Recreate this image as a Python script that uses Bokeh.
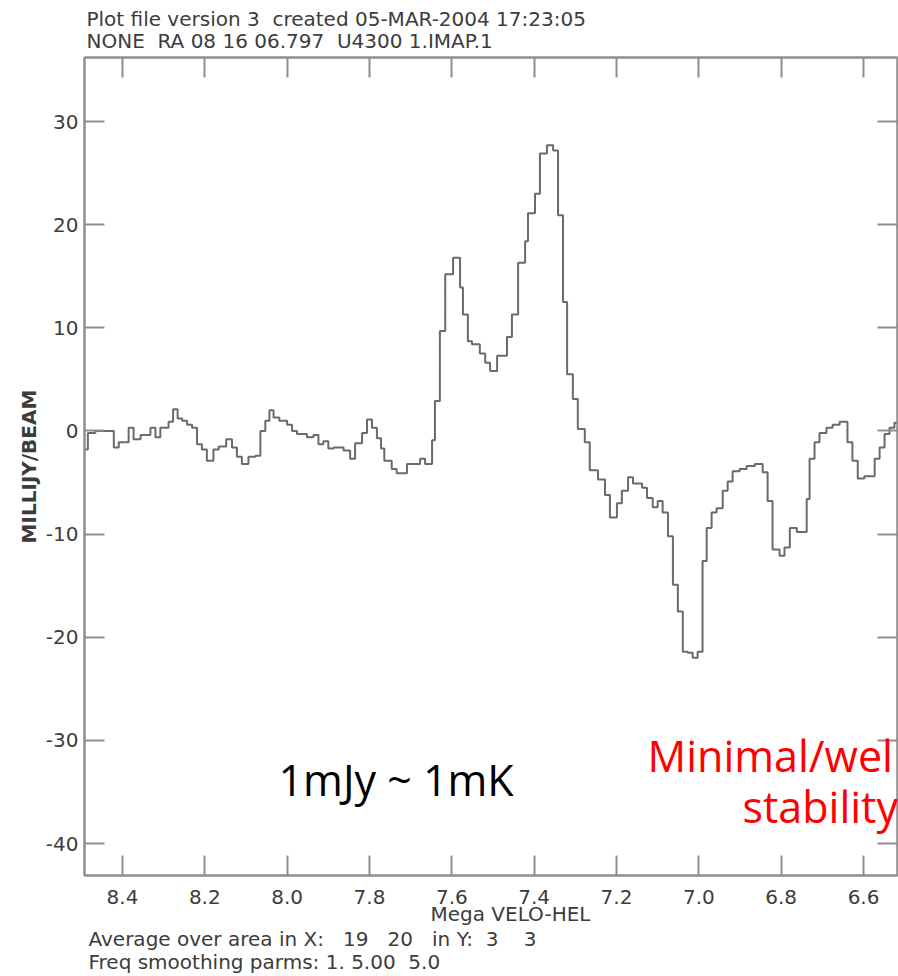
from bokeh.plotting import figure
from bokeh.models import Range1d, LinearAxis, FixedTicker, Label, Title
from bokeh.embed import file_html
from bokeh.resources import INLINE

# ---- data ----
# start velocity of each channel step (Mega VELO-HEL) and the flux (mJy/beam)
vel_edges = [8.492, 8.484, 8.466, 8.421, 8.409, 8.385, 8.373, 8.356, 8.332, 8.320,
             8.308, 8.288, 8.277, 8.266, 8.255, 8.243, 8.231, 8.219, 8.207, 8.195,
             8.179, 8.166, 8.148, 8.134, 8.122, 8.110, 8.094, 8.077, 8.065, 8.053,
             8.043, 8.033, 8.019, 8.000, 7.988, 7.976, 7.952, 7.936, 7.924, 7.912,
             7.900, 7.887, 7.863, 7.847, 7.835, 7.818, 7.806, 7.794, 7.782, 7.772,
             7.764, 7.746, 7.734, 7.709, 7.677, 7.665, 7.648, 7.641, 7.629, 7.616,
             7.597, 7.580, 7.573, 7.561, 7.551, 7.532, 7.519, 7.507, 7.490, 7.466,
             7.454, 7.439, 7.422, 7.415, 7.398, 7.386, 7.369, 7.354, 7.342, 7.330,
             7.320, 7.306, 7.294, 7.277, 7.265, 7.245, 7.228, 7.216, 7.199, 7.187,
             7.172, 7.160, 7.138, 7.126, 7.112, 7.100, 7.088, 7.075, 7.063, 7.051,
             7.039, 7.027, 7.015, 7.003, 6.991, 6.981, 6.969, 6.957, 6.942, 6.930,
             6.918, 6.901, 6.884, 6.864, 6.845, 6.833, 6.821, 6.804, 6.792, 6.779,
             6.762, 6.738, 6.731, 6.719, 6.707, 6.690, 6.675, 6.658, 6.639, 6.627,
             6.614, 6.598, 6.573, 6.561, 6.549, 6.537, 6.525, 6.510]
flux = [-1.8, -0.2, 0.0, -1.6, -1.1, 0.3, -0.8, -0.4, 0.3, -0.6,
        0.3, 0.9, 2.1, 1.2, 1.0, 0.6, 0.3, -1.3, -1.8, -2.9,
        -1.8, -1.5, -0.8, -1.6, -2.5, -3.2, -2.5, -2.4, 0.0, 1.0,
        2.0, 1.3, 1.0, 0.6, 0.0, -0.3, -0.6, -0.4, -1.3, -1.0,
        -1.7, -1.6, -1.9, -2.7, -1.2, -0.2, 1.1, 0.3, -0.7, -1.7,
        -2.9, -3.7, -4.1, -3.2, -2.7, -3.2, -0.9, 2.9, 9.7, 15.2,
        16.8, 13.9, 11.3, 8.7, 8.4, 7.5, 6.6, 5.8, 7.3, 9.1,
        11.3, 16.3, 18.4, 21.1, 23.0, 26.9, 27.7, 27.2, 20.9, 12.5,
        5.5, 3.1, 0.2, -1.1, -3.8, -4.7, -6.2, -8.4, -7.0, -5.8,
        -4.5, -5.1, -5.5, -6.5, -7.4, -6.8, -7.9, -10.2, -14.9, -17.5,
        -21.4, -21.5, -22.0, -21.4, -12.6, -9.4, -7.9, -7.5, -5.8, -4.9,
        -3.9, -3.7, -3.4, -3.2, -4.0, -6.8, -11.5, -12.1, -11.3, -9.4,
        -9.8, -6.6, -2.7, -1.1, -0.2, 0.3, 0.6, 0.9, -1.1, -2.9,
        -4.6, -4.4, -2.7, -1.6, -0.3, 0.3, 0.8, 0.8]

x_ticks = [8.4, 8.2, 8.0, 7.8, 7.6, 7.4, 7.2, 7.0, 6.8, 6.6]
x_tick_labels = ["8.4", "8.2", "8.0", "7.8", "7.6", "7.4", "7.2", "7.0", "6.8", "6.6"]
y_ticks = [-40, -30, -20, -10, 0, 10, 20, 30]
y_tick_labels = ["-40", "-30", "-20", "-10", "0", "10", "20", "30"]

header_lines = ["Plot file version 3\u00a0 created 05-MAR-2004 17:23:05",
                "NONE\u00a0 RA 08 16 06.797\u00a0 U4300 1.IMAP.1"]
x_title = "Mega VELO-HEL"
y_title = "MILLIJY/BEAM"
footer_lines = ["Average over area in X:\u00a0\u00a0 19\u00a0\u00a0 20\u00a0\u00a0 in Y:\u00a0 3\u00a0\u00a0\u00a0 3",
                "Freq smoothing parms: 1. 5.00\u00a0 5.0"]
note_black = "1mJy ~ 1mK"
note_red = ["Minimal/wel", "stability"]

# ---- style ----
GRAY = "#8e8e8e"
TXT = "#3c3c3c"
FONT = "DejaVu Sans"

p = figure(width=898, height=976, output_backend="svg", toolbar_location=None,
           x_range=Range1d(8.4922, 6.5175), y_range=Range1d(-43.10, 36.205),
           min_border_left=84, min_border_right=1, min_border_top=57, min_border_bottom=101)
p.grid.visible = False
p.outline_line_color = GRAY
p.outline_line_width = 2
p.background_fill_color = "white"
p.border_fill_color = "white"

p.step(vel_edges, flux, mode="after", line_color="#6a6a6a", line_width=2)


def style_axis(ax, ticks):
    ax.ticker = FixedTicker(ticks=ticks)
    ax.major_tick_in = 20
    ax.major_tick_out = 0
    ax.minor_tick_line_color = None
    ax.axis_line_color = GRAY
    ax.axis_line_width = 2
    ax.major_tick_line_color = GRAY
    ax.major_tick_line_width = 2
    ax.major_label_text_font = FONT
    ax.major_label_text_font_size = "20px"
    ax.major_label_text_color = TXT


xb = p.xaxis[0]
style_axis(xb, x_ticks)
xb.major_label_standoff = 14
xb.major_label_overrides = {t: s for t, s in zip(x_ticks, x_tick_labels)}

yl = p.yaxis[0]
style_axis(yl, y_ticks)
yl.major_label_standoff = 6
yl.major_label_overrides = {t: s for t, s in zip(y_ticks, y_tick_labels)}
yl.axis_label = y_title
yl.axis_label_text_font = FONT
yl.axis_label_text_font_size = "20px"
yl.axis_label_text_font_style = "bold"
yl.axis_label_text_color = TXT
yl.axis_label_standoff = 2

for loc, ticks in (("right", y_ticks), ("above", x_ticks)):
    ax = LinearAxis()
    style_axis(ax, ticks)
    ax.major_label_text_font_size = "0px"
    ax.major_label_standoff = 0
    ax.major_label_overrides = {t: "" for t in ticks}
    p.add_layout(ax, loc)


def add_title(text, loc, offset, standoff, valign):
    p.add_layout(Title(text=text, align="left", offset=offset, standoff=standoff,
                       vertical_align=valign, text_font=FONT, text_font_size="20px",
                       text_font_style="normal", text_color=TXT), loc)


# header: nearest to the frame first
add_title(header_lines[1], "above", 2, 8.6, "bottom")
add_title(header_lines[0], "above", 2, -17, "bottom")
# footer: nearest to the frame first
add_title(x_title, "below", 346, -9.8, "top")
add_title(footer_lines[0], "below", 4, 9.2, "top")
add_title(footer_lines[1], "below", 4, -15.8, "top")


def add_note(x, y, text, color):
    p.add_layout(Label(x=x, y=y, x_units="screen", y_units="screen", text=text,
                       text_font="Open Sans", text_font_size="43px", text_color=color,
                       text_align="left", text_baseline="alphabetic"))


add_note(194, 96, note_black, "#000000")
add_note(563, 120, note_red[0], "#ff0000")
add_note(658, 69, note_red[1], "#ff0000")

open("out.html", "w").write(file_html(p, INLINE))
